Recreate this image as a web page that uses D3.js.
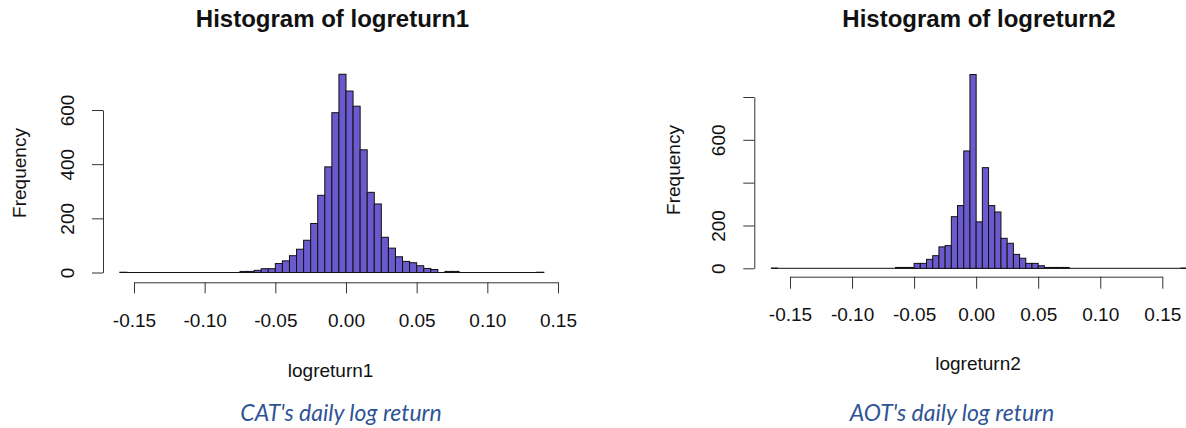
<!DOCTYPE html>
<html>
<head>
<meta charset="utf-8">
<script src="https://cdn.jsdelivr.net/npm/d3@7"></script>
<style>
  html, body { margin: 0; padding: 0; background: #fff; }
  svg text { font-family: "Liberation Sans", Arial, sans-serif; fill: #111; }
  .caption { font-family: Lato, "Open Sans", sans-serif !important; font-style: italic; fill: #2F5496 !important; }
</style>
</head>
<body>
<svg id="chart" width="1186" height="428"></svg>
<script>
// ---------- data ----------
const binWidth = 0.005;
const firstBreak1 = -0.16;
const counts1 = [
  1, 0, 0, 0, 0, 0, 0, 0, 0, 0, 0, 0, 0, 0, 0, 0, 0,
  4, 4, 8, 14, 14, 33, 43, 62, 86, 119, 181, 285, 390, 590, 732,
  670, 614, 453, 296, 253, 130, 90, 58, 41, 36, 25, 15, 11, 0, 4, 4,
  0, 0, 0, 0, 0, 0, 0, 0, 0, 0, 0, 1
];
const firstBreak2 = -0.165;
const counts2 = [
  1, 0, 0, 0, 0, 0, 0, 0, 0, 0, 0, 0, 0, 0, 0, 0, 0, 0, 0, 0,
  4, 4, 4, 23, 23, 42, 59, 100, 106, 241, 293, 548, 905,
  217, 470, 293, 263, 140, 117, 65, 47, 23, 23, 12, 4, 4, 4, 4,
  0, 0, 0, 0, 0, 0, 0, 0, 0, 0, 0, 0, 0, 0, 0, 0, 0, 0, 1
];
const xTicks = [-0.15, -0.10, -0.05, 0.00, 0.05, 0.10, 0.15];
const xTickLabels = ["-0.15", "-0.10", "-0.05", "0.00", "0.05", "0.10", "0.15"];
const yTicks1 = [0, 200, 400, 600];
const yTickLabels1 = ["0", "200", "400", "600"];
const yTicks2 = [0, 200, 400, 600, 800];
const yTickLabels2 = ["0", "200", "", "600", ""];
const titles = ["Histogram of logreturn1", "Histogram of logreturn2"];
const xLabels = ["logreturn1", "logreturn2"];
const yLabel = "Frequency";
const captions = ["CAT's daily log return", "AOT's daily log return"];

// ---------- layout ----------
const panels = [
  { counts: counts1, first: firstBreak1, xr: [134, 558], yDom: [0, 600], yr: [272.5, 110],
    yTicks: yTicks1, yLabels: yTickLabels1, yAxisX: 103, xAxisY: 282.3, tickLen: 11,
    xTickBase: 326.7, titleX: 332.5, xLabX: 330.6, xLabY: 376.7, capX: 341, freqX: 26, freqY: 173 },
  { counts: counts2, first: firstBreak2, xr: [790, 1162.3], yDom: [0, 800], yr: [268.3, 97],
    yTicks: yTicks2, yLabels: yTickLabels2, yAxisX: 754.3, xAxisY: 276.7, tickLen: 12,
    xTickBase: 320.7, titleX: 979, xLabX: 978, xLabY: 370, capX: 952, freqX: 680, freqY: 170 }
];

const svg = d3.select("#chart");

panels.forEach((p, k) => {
  const g = svg.append("g");
  const x = d3.scaleLinear().domain([-0.15, 0.15]).range(p.xr);
  const y = d3.scaleLinear().domain(p.yDom).range(p.yr);
  const bins = p.counts.map((c, i) => ({ x0: p.first + i * binWidth, x1: p.first + (i + 1) * binWidth, c }));

  // baseline formed by empty bins
  g.append("line")
    .attr("x1", x(bins[0].x0)).attr("x2", x(bins[bins.length - 1].x1))
    .attr("y1", y(0)).attr("y2", y(0))
    .attr("stroke", "#111").attr("stroke-width", 1);

  g.append("g").selectAll("rect").data(bins.filter(d => d.c > 0)).join("rect")
    .attr("x", d => x(d.x0))
    .attr("y", d => y(d.c))
    .attr("width", d => x(d.x1) - x(d.x0))
    .attr("height", d => y(0) - y(d.c))
    .attr("fill", "#6A5ACD")
    .attr("stroke", "#111")
    .attr("stroke-width", 1);

  // x axis
  const xa = g.append("g").attr("transform", `translate(0,${p.xAxisY})`)
    .call(d3.axisBottom(x).tickValues(xTicks).tickFormat((d, i) => xTickLabels[i]).tickSize(p.tickLen).tickSizeOuter(0));
  xa.selectAll("path, line").attr("stroke", "#333");
  xa.selectAll("text").attr("y", p.xTickBase - p.xAxisY).attr("dy", 0)
    .style("font-size", "19px").attr("fill", "#111");

  // y axis
  const ya = g.append("g").attr("transform", `translate(${p.yAxisX},0)`)
    .call(d3.axisLeft(y).tickValues(p.yTicks).tickFormat((d, i) => p.yLabels[i]).tickSize(11).tickSizeOuter(0));
  ya.selectAll("path, line").attr("stroke", "#333");
  ya.selectAll("text").attr("x", 0).attr("dy", 0)
    .attr("transform", "translate(-29,0) rotate(-90)")
    .attr("text-anchor", "middle")
    .style("font-size", "19px").attr("fill", "#111");

  g.append("text").attr("x", p.titleX).attr("y", 26.7).attr("text-anchor", "middle")
    .style("font-size", "24px").style("font-weight", "bold").text(titles[k]);
  g.append("text").attr("x", p.xLabX).attr("y", p.xLabY).attr("text-anchor", "middle")
    .style("font-size", "19px").text(xLabels[k]);
  g.append("text").attr("transform", `translate(${p.freqX},${p.freqY}) rotate(-90)`)
    .attr("text-anchor", "middle").style("font-size", "19px").text(yLabel);
  g.append("text").attr("class", "caption").attr("x", p.capX).attr("y", 421).attr("text-anchor", "middle")
    .style("font-size", "23px").text(captions[k]);
});
</script>
</body>
</html>
